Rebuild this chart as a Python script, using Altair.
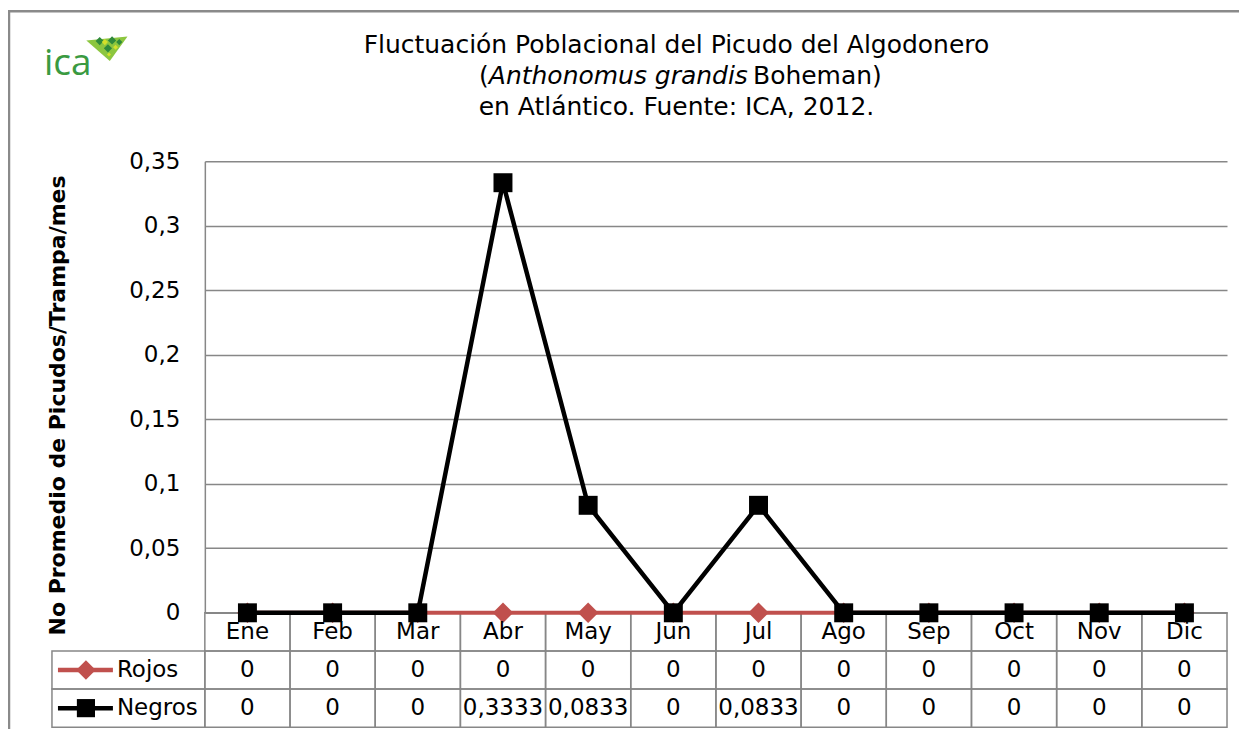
import altair as alt
import pandas as pd

# ---------------- data ----------------
months = ["Ene", "Feb", "Mar", "Abr", "May", "Jun", "Jul", "Ago", "Sep", "Oct", "Nov", "Dic"]
rojos = [0, 0, 0, 0, 0, 0, 0, 0, 0, 0, 0, 0]
negros = [0, 0, 0, 0.3333, 0.0833, 0, 0.0833, 0, 0, 0, 0, 0]
series_names = ["Rojos", "Negros"]
series_colors = ["#C0504D", "#000000"]
series_shapes = ["diamond", "square"]
y_ticks = [0, 0.05, 0.1, 0.15, 0.2, 0.25, 0.3, 0.35]
title_line1 = "Fluctuación Poblacional del Picudo del Algodonero"
title_line2 = ["(", "Anthonomus grandis", " Boheman)"]
title_line3 = "en Atlántico. Fuente: ICA, 2012."
y_title = "No Promedio de Picudos/Trampa/mes"
logo_text = "ica"

FONT = "DejaVu Sans"
W, H = 1023, 452
GRID = "#878787"

long = pd.DataFrame({
    "mes": months * 2,
    "serie": ["Rojos"] * len(months) + ["Negros"] * len(months),
    "valor": rojos + negros,
})
legend_df = pd.DataFrame({"serie": series_names, "color": series_colors, "shape": series_shapes,
                          "size": [380, 330]})
header_df = pd.DataFrame({"mes": months, "serie": ["hdr"] * len(months)})
one = pd.DataFrame({"k": [0]})

xscale = alt.Scale(type="band", domain=months, paddingInner=0, paddingOuter=0)
yscale = alt.Scale(domain=[0, 0.35], nice=False, zero=True)
rows_dom = ["hdr"] + series_names
tscale = alt.Scale(type="band", domain=rows_dom, range=[H, H + 114.5], paddingInner=0, paddingOuter=0)

y_axis = alt.Axis(
    values=y_ticks,
    labelExpr="replace(format(datum.value, '.2~f'), '.', ',')",
    grid=True, gridColor=GRID, gridWidth=1.5,
    domain=True, domainColor=GRID, domainWidth=1.5,
    ticks=False, labelFont=FONT, labelFontSize=23, labelPadding=25, labelColor="black",
    title=y_title, titleFont=FONT, titleFontSize=22, titleFontWeight="bold",
    titleColor="black", titleX=-147, titleY=244, titleAngle=270,
    titleAlign="center", titleBaseline="middle",
)
x_axis = alt.Axis(
    domain=False, ticks=False, grid=False, labelAngle=0, labelFont=FONT,
    labelFontSize=23, labelPadding=19, labelBaseline="middle", labelAlign="center",
    bandPosition=0.5, labelColor="black", title=None,
)

# ---------------- lines ----------------
def series_layers(name, color, shape, sw, size, first=False):
    d = alt.Chart(long).transform_filter(alt.datum.serie == name)
    xenc = alt.X("mes:N", scale=xscale, sort=months, axis=x_axis) if first else alt.X("mes:N", scale=xscale, sort=months)
    yenc = alt.Y("valor:Q", scale=yscale, axis=y_axis) if first else alt.Y("valor:Q", scale=yscale)
    line = d.mark_line(color=color, strokeWidth=sw).encode(x=xenc, y=yenc)
    pts = d.mark_point(shape=shape, filled=True, size=size, color=color, opacity=1).encode(
        x=alt.X("mes:N", scale=xscale, sort=months), y=alt.Y("valor:Q", scale=yscale))
    return [line, pts]

lines = alt.layer(
    *series_layers("Rojos", series_colors[0], series_shapes[0], 4, 420, first=True),
    *series_layers("Negros", series_colors[1], series_shapes[1], 4.5, 360),
)

# ---------------- table ----------------
cell_style = dict(fillOpacity=0, stroke=GRID, strokeWidth=1.5)
hdr_cells = alt.Chart(header_df).mark_rect(**cell_style).encode(
    x=alt.X("mes:N", scale=xscale, sort=months),
    y=alt.Y("serie:N", scale=tscale, axis=None, sort=rows_dom),
)
val_cells = alt.Chart(long).mark_rect(**cell_style).encode(
    x=alt.X("mes:N", scale=xscale, sort=months),
    y=alt.Y("serie:N", scale=tscale, axis=None, sort=rows_dom),
)
val_text = alt.Chart(long).transform_calculate(
    lbl="replace(format(datum.valor, '.4~f'), '.', ',')"
).mark_text(font=FONT, fontSize=23, color="black", baseline="middle").encode(
    x=alt.X("mes:N", scale=xscale, sort=months),
    y=alt.Y("serie:N", scale=tscale, axis=None, sort=rows_dom),
    text="lbl:N",
)
leg_cells = alt.Chart(legend_df).mark_rect(**cell_style).encode(
    x=alt.value(-153), x2=alt.value(0),
    y=alt.Y("serie:N", scale=tscale, axis=None, sort=rows_dom),
)
leg_rule = alt.Chart(legend_df).mark_rule(strokeWidth=4.5).encode(
    x=alt.value(-147), x2=alt.value(-92),
    y=alt.Y("serie:N", scale=tscale, axis=None, sort=rows_dom),
    color=alt.Color("color:N", scale=None),
)
leg_pts = alt.Chart(legend_df).mark_point(filled=True, opacity=1).encode(
    x=alt.value(-119),
    y=alt.Y("serie:N", scale=tscale, axis=None, sort=rows_dom),
    color=alt.Color("color:N", scale=None),
    shape=alt.Shape("shape:N", scale=None),
    size=alt.Size("size:Q", scale=None),
)
leg_text = alt.Chart(legend_df).mark_text(font=FONT, fontSize=23, align="left", baseline="middle", color="black").encode(
    x=alt.value(-88),
    y=alt.Y("serie:N", scale=tscale, axis=None, sort=rows_dom),
    text="serie:N",
)
table = alt.layer(hdr_cells, val_cells, val_text, leg_cells, leg_rule, leg_pts, leg_text)

# ---------------- decorations: title, logo, frame ----------------
deco = alt.Chart(one)
frame = deco.mark_rect(fillOpacity=0, stroke="#8a8a8a", strokeWidth=2.5).encode(
    x=alt.value(-196), x2=alt.value(1100), y=alt.value(-150), y2=alt.value(700))
tcenter = 472
t1 = deco.mark_text(font=FONT, fontSize=25, color="black", align="center", baseline="middle").encode(
    x=alt.value(tcenter), y=alt.value(-116), text=alt.value(title_line1))
t3 = deco.mark_text(font=FONT, fontSize=25, color="black", align="center", baseline="middle").encode(
    x=alt.value(tcenter), y=alt.value(-54), text=alt.value(title_line3))
w_par, w_it, w_bo = 9.75, 264.4, 136.9
x0 = tcenter + 8 - (w_par + w_it + w_bo) / 2
t2a = deco.mark_text(font=FONT, fontSize=25, color="black", align="left", baseline="middle").encode(
    x=alt.value(x0), y=alt.value(-85), text=alt.value(title_line2[0]))
t2b = deco.mark_text(font=FONT, fontSize=25, fontStyle="italic", color="black", align="left", baseline="middle").encode(
    x=alt.value(x0 + w_par), y=alt.value(-85), text=alt.value(title_line2[1]))
t2c = deco.mark_text(font=FONT, fontSize=25, color="black", align="left", baseline="middle").encode(
    x=alt.value(x0 + w_par + w_it), y=alt.value(-85), text=alt.value(title_line2[2]))

logo_t = deco.mark_text(font="Open Sans", fontSize=37, color="#3a9a41", align="left", baseline="alphabetic").encode(
    x=alt.value(-161), y=alt.value(-86), text=alt.value(logo_text))
tri = "M -1 -0.38 L 1 -0.57 L 0.14 0.62 Z"
mosaic_dark = ("M -0.55 -0.35 L -0.35 -0.15 L -0.15 -0.35 L -0.35 -0.55 Z "
               "M 0.05 -0.38 L 0.25 -0.18 L 0.45 -0.38 L 0.25 -0.58 Z "
               "M -0.15 0.0 L 0.05 0.2 L 0.25 0.0 L 0.05 -0.2 Z "
               "M 0.45 -0.3 L 0.6 -0.15 L 0.75 -0.3 L 0.6 -0.45 Z")
mosaic_yel = ("M -0.25 -0.3 L -0.1 -0.15 L 0.05 -0.3 L -0.1 -0.45 Z "
              "M 0.0 0.3 L 0.1 0.4 L 0.2 0.3 L 0.1 0.2 Z "
              "M 0.3 -0.05 L 0.42 0.07 L 0.54 -0.05 L 0.42 -0.17 Z")
logo_tri = deco.mark_point(shape=tri, filled=True, opacity=1, size=1700, color="#8cc63f", strokeWidth=0).encode(
    x=alt.value(-98), y=alt.value(-113))
logo_dark = deco.mark_point(shape=mosaic_dark, filled=True, opacity=1, size=1700, color="#2f8a3b", strokeWidth=0).encode(
    x=alt.value(-98), y=alt.value(-113))
logo_yel = deco.mark_point(shape=mosaic_yel, filled=True, opacity=1, size=1700, color="#d4e02a", strokeWidth=0).encode(
    x=alt.value(-98), y=alt.value(-113))

chart = alt.layer(
    frame, t1, t2a, t2b, t2c, t3, logo_t, logo_tri, logo_dark, logo_yel, table, lines
).resolve_scale(y="independent").properties(
    width=W, height=H,
    autosize=alt.AutoSizeParams(type="none"),
    padding={"left": 197, "top": 153, "right": 12, "bottom": 116},
    background="white",
).configure_view(stroke="transparent")

chart.save("out.html", embed_options={"renderer": "svg", "actions": False})
